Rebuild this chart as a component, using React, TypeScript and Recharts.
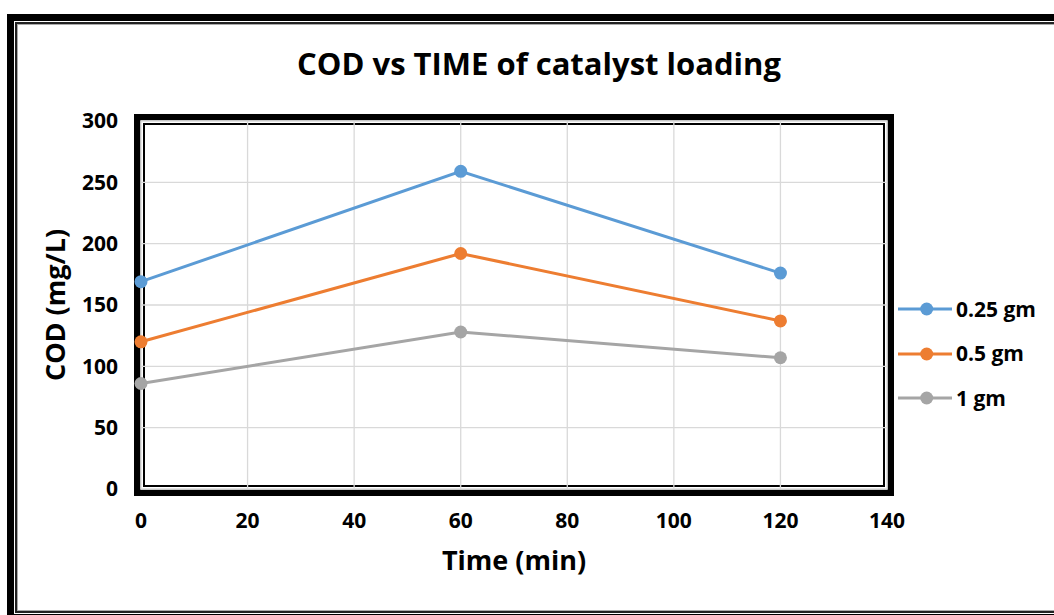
import React from 'react';
import {
  LineChart,
  Line,
  XAxis,
  YAxis,
  CartesianGrid,
  Legend,
  Label,
} from 'recharts';

// values
const times = [0, 60, 120];
const cod025 = [169, 259, 176];
const cod05 = [120, 192, 137];
const cod1 = [86, 128, 107];

const xTicks = [0, 20, 40, 60, 80, 100, 120, 140];
const yTicks = [0, 50, 100, 150, 200, 250, 300];

const seriesNames = ['0.25 gm', '0.5 gm', '1 gm'];
const seriesColors = ['#5B9BD5', '#ED7D31', '#A5A5A5'];

const data = times.map((t, i) => ({
  time: t,
  s025: cod025[i],
  s05: cod05[i],
  s1: cod1[i],
}));

const FONT = '"Open Sans", "Noto Sans", sans-serif';

// plot rectangle (used for the decorative frame only)
const PLOT = { left: 141, top: 121, right: 887, bottom: 489 };

function renderLegend() {
  return (
    <div style={{ fontFamily: FONT, fontWeight: 700, fontSize: 21, color: '#000' }}>
      {seriesNames.map((name, i) => (
        <div key={name} style={{ display: 'flex', alignItems: 'center', height: 44.5 }}>
          <svg width={56} height={16}>
            <line x1={0} y1={8} x2={54} y2={8} stroke={seriesColors[i]} strokeWidth={3} />
            <circle cx={28.7} cy={8} r={6.5} fill={seriesColors[i]} />
          </svg>
          <span style={{ marginLeft: 2, lineHeight: 1 }}>{name}</span>
        </div>
      ))}
    </div>
  );
}

function PlotFrame() {
  const w = PLOT.right - PLOT.left;
  const h = PLOT.bottom - PLOT.top;
  return (
    <div
      style={{
        position: 'absolute',
        left: PLOT.left - 7,
        top: PLOT.top - 7,
        width: w + 14,
        height: h + 14,
        boxSizing: 'border-box',
        border: '6px solid #000',
      }}
    >
      <div style={{ width: '100%', height: '100%', boxSizing: 'border-box', border: '1.5px solid #8c8c8c' }}>
        <div style={{ width: '100%', height: '100%', boxSizing: 'border-box', border: '2px solid #fff' }}>
          <div style={{ width: '100%', height: '100%', boxSizing: 'border-box', border: '2px solid #000' }} />
        </div>
      </div>
    </div>
  );
}

export default function App() {
  return (
    <div
      style={{
        position: 'fixed',
        left: 0,
        top: 0,
        width: 1054,
        height: 615,
        overflow: 'hidden',
        background: '#fff',
      }}
    >
      {/* outer chart border */}
      <div
        style={{
          position: 'absolute',
          left: 7,
          top: 14,
          width: 1120,
          height: 607,
          boxSizing: 'border-box',
          border: '7px solid #000',
        }}
      >
        <div style={{ width: '100%', height: '100%', boxSizing: 'border-box', border: '1px solid #fff' }}>
          <div style={{ width: '100%', height: '100%', boxSizing: 'border-box', border: '2px solid #222' }}>
            <div style={{ width: '100%', height: '100%', boxSizing: 'border-box', border: '1px solid #aaa' }} />
          </div>
        </div>
      </div>

      <PlotFrame />

      <div
        style={{
          position: 'absolute',
          left: 0,
          top: 42,
          width: 1078,
          textAlign: 'center',
          fontFamily: FONT,
          fontWeight: 700,
          fontSize: 31,
          lineHeight: '42px',
          color: '#000',
        }}
      >
        COD vs TIME of catalyst loading
      </div>

      <div style={{ position: 'absolute', left: 0, top: 0 }}>
        <LineChart
          width={1054}
          height={615}
          data={data}
          margin={{ top: 121, right: 167, left: 41, bottom: 66 }}
        >
          <CartesianGrid stroke="#D9D9D9" strokeWidth={1.3} />
          <XAxis
            dataKey="time"
            type="number"
            domain={[0, 140]}
            ticks={xTicks}
            interval={0}
            height={60}
            axisLine={false}
            tickLine={false}
            tickSize={6}
            tickMargin={18}
            tick={{ fill: '#000', fontSize: 21, fontWeight: 700, fontFamily: FONT }}
          >
            <Label
              value="Time (min)"
              position="bottom"
              offset={2}
              style={{ fill: '#000', fontSize: 27, fontWeight: 700, fontFamily: FONT }}
            />
          </XAxis>
          <YAxis
            type="number"
            domain={[0, 300]}
            ticks={yTicks}
            interval={0}
            width={100}
            axisLine={false}
            tickLine={false}
            tickSize={6}
            tickMargin={17}
            tick={{ fill: '#000', fontSize: 21, fontWeight: 700, fontFamily: FONT }}
          >
            <Label
              value="COD (mg/L)"
              angle={-90}
              position="insideLeft"
              offset={14}
              style={{ textAnchor: 'middle', fill: '#000', fontSize: 27, fontWeight: 700, fontFamily: FONT }}
            />
          </YAxis>
          <Legend
            layout="vertical"
            align="center"
            verticalAlign="middle"
            content={renderLegend}
            wrapperStyle={{ left: 898, top: 287, width: 150 }}
          />
          <Line
            type="linear"
            dataKey="s025"
            name={seriesNames[0]}
            stroke={seriesColors[0]}
            strokeWidth={3}
            dot={{ r: 6.5, fill: seriesColors[0], stroke: 'none' }}
            isAnimationActive={false}
          />
          <Line
            type="linear"
            dataKey="s05"
            name={seriesNames[1]}
            stroke={seriesColors[1]}
            strokeWidth={3}
            dot={{ r: 6.5, fill: seriesColors[1], stroke: 'none' }}
            isAnimationActive={false}
          />
          <Line
            type="linear"
            dataKey="s1"
            name={seriesNames[2]}
            stroke={seriesColors[2]}
            strokeWidth={3}
            dot={{ r: 6.5, fill: seriesColors[2], stroke: 'none' }}
            isAnimationActive={false}
          />
        </LineChart>
      </div>
    </div>
  );
}
